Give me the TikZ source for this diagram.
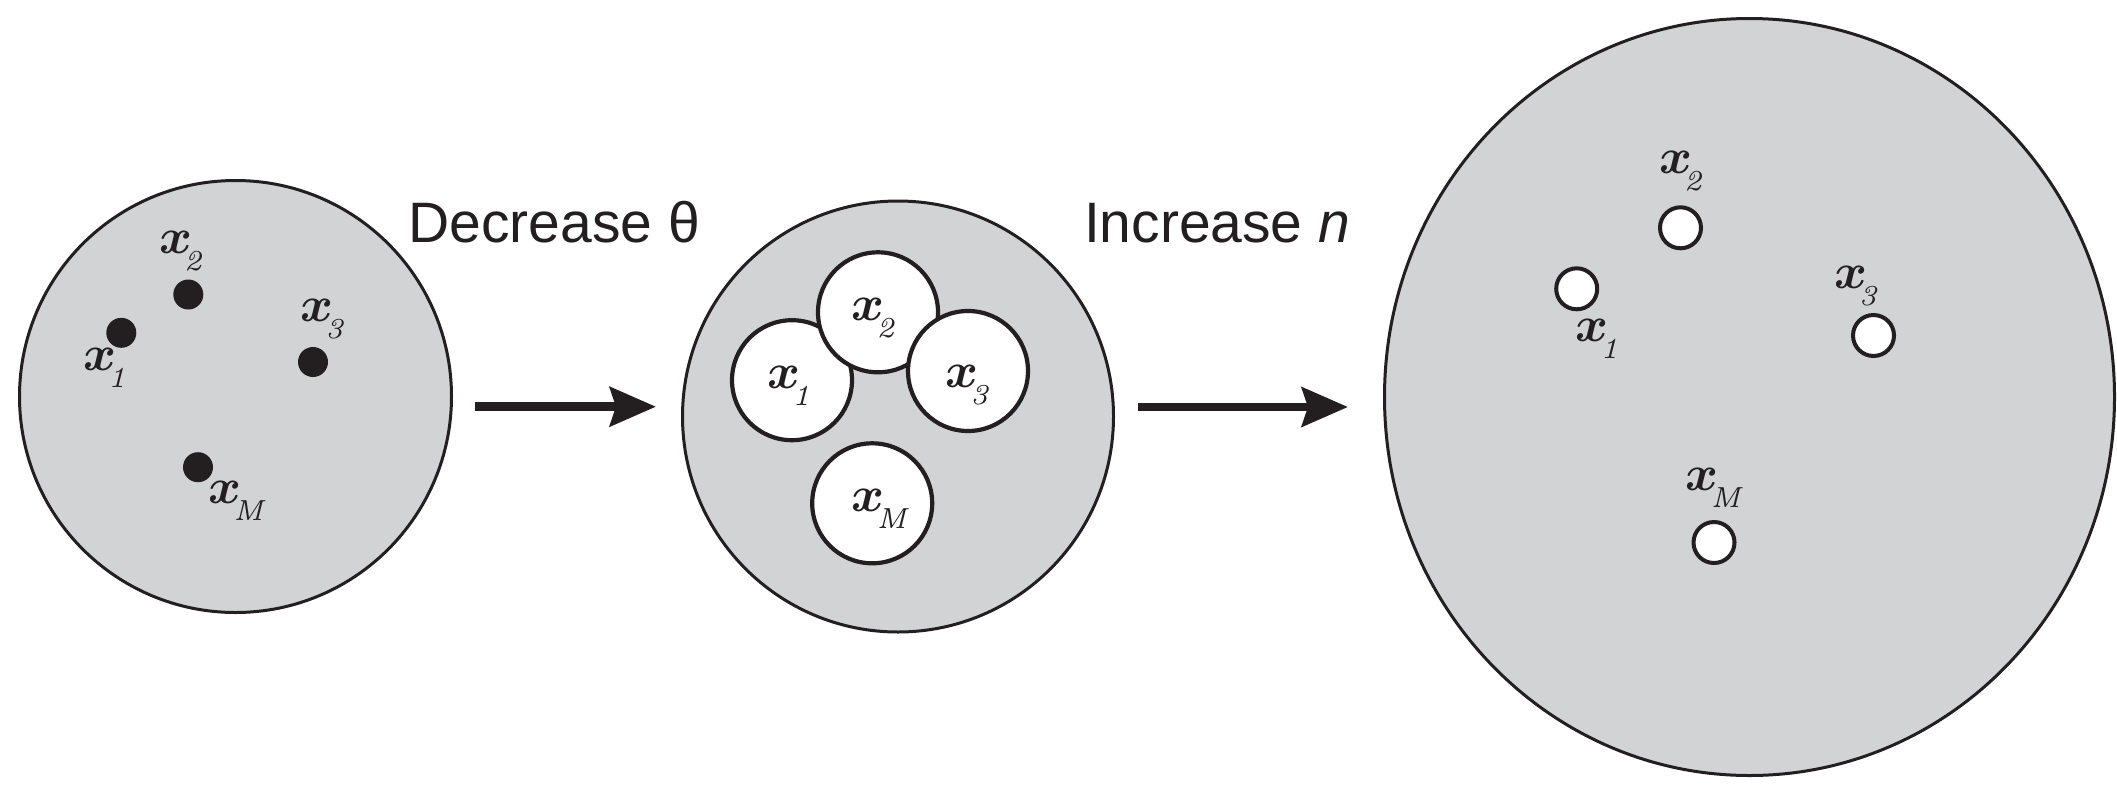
\documentclass[tikz,border=0pt]{standalone}
\usepackage{fontspec}
\newfontfamily\labfont{Liberation Sans}
\usetikzlibrary{shapes.geometric,arrows.meta}
\DeclareFontShape{OML}{cmm}{b}{it}{<->cmmib10}{}
\DeclareFontFamily{OT1}{xsub}{}
\DeclareFontShape{OT1}{xsub}{m}{it}{<->cmti7}{}
\definecolor{ink}{RGB}{35,31,32}
\definecolor{regiongray}{RGB}{209,211,212}
\newcommand{\xlab}[1]{\rlap{\fontsize{50}{50}\usefont{OML}{cmm}{b}{it}x}\hspace{25pt}\raisebox{-17pt}{\fontsize{29}{29}\usefont{OT1}{xsub}{m}{it}#1}}
\tikzset{
  every node/.style={inner sep=0pt, outer sep=0pt},
  region/.style={circle, draw=ink, fill=regiongray, line width=3pt, minimum size=#1},
  bigregion/.style={ellipse, draw=ink, fill=regiongray, line width=3pt, minimum width=730pt, minimum height=757pt},
  blackdot/.style={circle, fill=ink, minimum size=30pt},
  ball/.style={circle, draw=ink, fill=white, line width=4.2pt, minimum size=120pt},
  hole/.style={circle, draw=ink, fill=white, line width=4pt, minimum size=41pt},
  xlabel/.style={anchor=base west, text=ink},
  steptext/.style={anchor=base west, text=ink, font=\labfont\fontsize{57}{60}\selectfont},
  bigarrow/.style={draw=ink, line width=8.7pt, -{Stealth[length=46pt, width=39pt, inset=6pt]}}
}
\begin{document}
\begin{tikzpicture}[x=1pt, y=-1pt]
\useasboundingbox (0,0) rectangle (2117,785);
% left region
\node[region=432pt] (c1) at (235.5,396.5) {};
\node[blackdot] (c1d1) at (121.3,332.8) {};
\node[blackdot] (c1d2) at (188.3,294.5) {};
\node[blackdot] (c1d3) at (313,362) {};
\node[blackdot] (c1dM) at (198,467.2) {};
\node[xlabel] (c1l1) at (83,370) {\xlab{1}};
\node[xlabel] (c1l2) at (159,253.3) {\xlab{2}};
\node[xlabel] (c1l3) at (300.7,321.7) {\xlab{3}};
\node[xlabel] (c1lM) at (208.3,503.3) {\xlab{M}};
% middle region
\node[region=431pt] (c2) at (898,416.5) {};
\node[ball] (c2b1) at (792,380.2) {};
\node[ball] (c2b2) at (878,312.3) {};
\node[ball] (c2b3) at (968,371) {};
\node[ball] (c2bM) at (872.2,503.3) {};
\node[xlabel] (c2l1) at (767.3,388.3) {\xlab{1}};
\node[xlabel] (c2l2) at (851.7,320) {\xlab{2}};
\node[xlabel] (c2l3) at (945.7,387.3) {\xlab{3}};
\node[xlabel] (c2lM) at (851.7,511.7) {\xlab{M}};
% right region
\node[bigregion] (c3) at (1749.5,397) {};
\node[hole] (c3h1) at (1576.7,288.8) {};
\node[hole] (c3h2) at (1680.5,227.8) {};
\node[hole] (c3h3) at (1873.5,335.5) {};
\node[hole] (c3hM) at (1714,542.5) {};
\node[xlabel] (c3l1) at (1575.7,341.7) {\xlab{1}};
\node[xlabel] (c3l2) at (1659,173.3) {\xlab{2}};
\node[xlabel] (c3l3) at (1834,288.3) {\xlab{3}};
\node[xlabel] (c3lM) at (1685.7,490) {\xlab{M}};
% arrows and captions
\coordinate (a1s) at (475,406.7);
\coordinate (a1e) at (656,406.7);
\coordinate (a2s) at (1138,407);
\coordinate (a2e) at (1348,407);
\draw[bigarrow] (a1s) -- (a1e);
\draw[bigarrow] (a2s) -- (a2e);
\node[steptext] (t1) at (408.5,242) {Decrease θ};
\node[steptext] (t2) at (1084,242) {Increase \textit{n}};
\end{tikzpicture}
\end{document}
